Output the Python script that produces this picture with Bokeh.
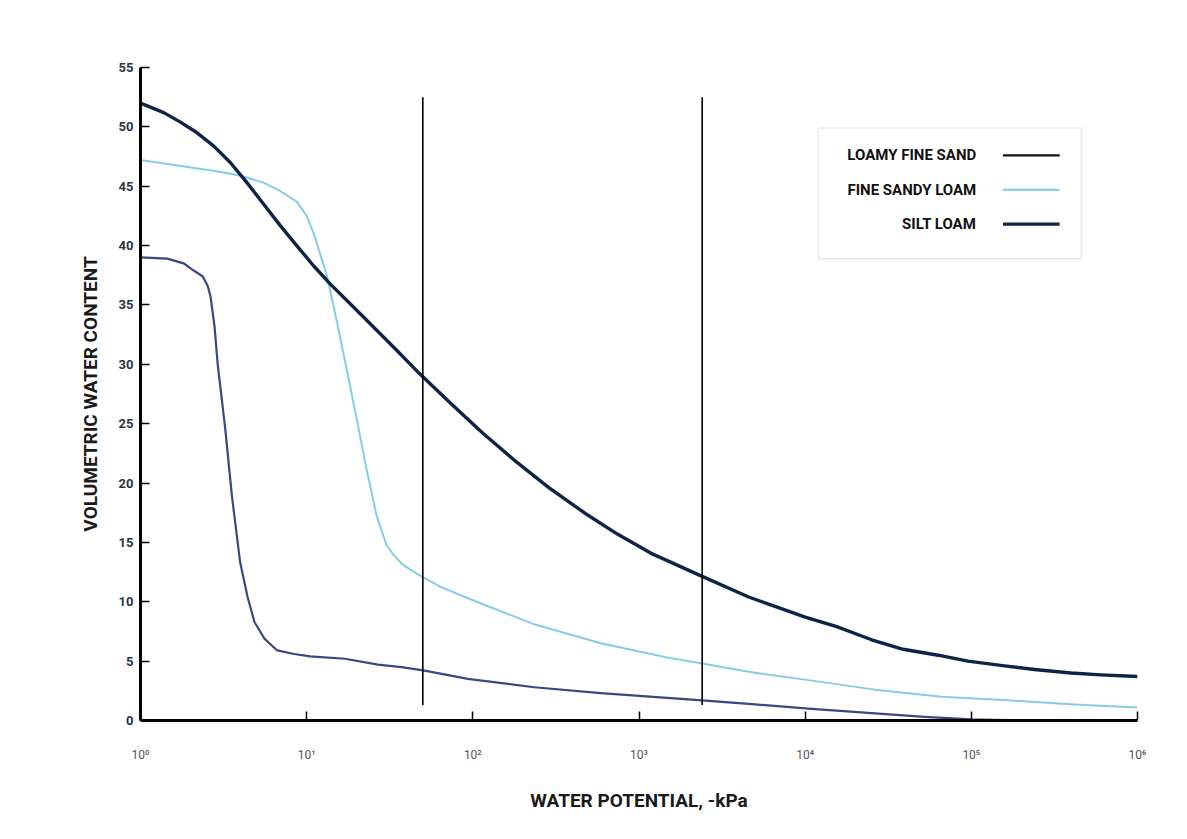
from bokeh.plotting import figure
from bokeh.models import Range1d, FixedTicker, BoxAnnotation
from bokeh.embed import file_html
from bokeh.resources import INLINE
from bokeh.core.properties import value

# ---- data (water potential in -kPa, volumetric water content in %) ----
silt_kpa = [1, 1.38, 1.74, 2.19, 2.75, 3.47, 4.37, 5.50, 6.92, 8.71, 11.0, 13.8, 21.9,
            34.7, 47.9, 72.4, 115, 182, 288, 468, 741, 1175, 2344, 4571, 6026, 10000,
            15488, 25119, 38905, 63096, 95499, 158489, 239883, 398107, 602560, 1000000]
silt_theta = [52.0, 51.2, 50.4, 49.5, 48.4, 47.0, 45.3, 43.5, 41.7, 40.0, 38.3, 36.8, 34.0,
              31.2, 29.2, 26.8, 24.2, 21.8, 19.6, 17.5, 15.7, 14.1, 12.2, 10.4, 9.8, 8.7,
              7.9, 6.8, 6.0, 5.5, 5.0, 4.6, 4.3, 4.0, 3.84, 3.7]

fsl_kpa = [1, 1.74, 2.75, 3.98, 5.50, 6.92, 8.71, 10.0, 11.1, 12.0, 13.2, 15.1, 17.4,
           20.0, 22.9, 26.3, 30.2, 33.1, 38.0, 45.7, 63.1, 93.3, 234, 589, 1479, 2399,
           4571, 10471, 26303, 66069, 165959, 416869, 1000000]
fsl_theta = [47.2, 46.7, 46.3, 45.9, 45.3, 44.6, 43.7, 42.5, 40.9, 39.4, 37.5, 33.8, 29.6,
             25.4, 21.2, 17.3, 14.8, 14.0, 13.1, 12.4, 11.3, 10.3, 8.1, 6.5, 5.3, 4.8,
             4.1, 3.4, 2.6, 2.0, 1.7, 1.35, 1.1]

lfs_kpa = [1, 1.45, 1.82, 2.09, 2.37, 2.54, 2.64, 2.79, 2.91, 3.24, 3.55, 3.98, 4.41,
           4.85, 5.57, 6.65, 8.41, 10.5, 17.0, 26.9, 37.2, 51.3, 93.3, 234, 589, 1479,
           2399, 4571, 10471, 26303, 52481, 100000, 199526]
lfs_theta = [39.0, 38.9, 38.5, 37.9, 37.4, 36.6, 35.7, 33.2, 30.1, 24.5, 18.9, 13.3, 10.4,
             8.3, 6.9, 5.9, 5.6, 5.4, 5.2, 4.7, 4.5, 4.2, 3.5, 2.8, 2.3, 1.9,
             1.7, 1.4, 1.0, 0.6, 0.3, 0.1, 0.0]

marker_kpa = [50, 2400]
marker_bottom = [1.3, 1.3]
marker_top = [52.5, 52.5]

x_ticks = [1, 10, 100, 1000, 10000, 100000, 1000000]
x_tick_labels = ["10⁰", "10¹", "10²", "10³", "10⁴", "10⁵", "10⁶"]
y_ticks = [0, 5, 10, 15, 20, 25, 30, 35, 40, 45, 50, 55]

legend_labels = ["LOAMY FINE SAND", "FINE SANDY LOAM", "SILT LOAM"]
legend_colors = ["#111111", "#7fc6e2", "#0c2447"]
legend_widths = [2.2, 2.0, 3.2]

FONT = "Roboto"

p = figure(width=1179, height=831, x_axis_type="log",
           x_range=Range1d(1, 1e6), y_range=Range1d(0, 55),
           output_backend="svg", toolbar_location=None,
           min_border_left=140, min_border_right=42,
           min_border_top=67, min_border_bottom=111)
p.outline_line_color = None
p.grid.visible = False
p.background_fill_color = "white"

# curves
p.line(lfs_kpa, lfs_theta, line_color="#3b4684", line_width=2.2, line_join="round")
p.line(fsl_kpa, fsl_theta, line_color="#86cce6", line_width=2.0, line_join="round")
p.line(silt_kpa, silt_theta, line_color="#0c2447", line_width=3.4, line_join="round")

# vertical reference lines
p.segment(x0=marker_kpa, y0=marker_bottom, x1=marker_kpa, y1=marker_top,
          line_color="black", line_width=1.6)

# axes
p.xaxis.ticker = FixedTicker(ticks=x_ticks)
p.xaxis.major_label_overrides = {t: l for t, l in zip(x_ticks, x_tick_labels)}
p.yaxis.ticker = FixedTicker(ticks=y_ticks)
for ax in (p.xaxis, p.yaxis):
    ax.axis_line_color = "black"
    ax.axis_line_width = 3
    ax.major_tick_line_color = "black"
    ax.major_tick_line_width = 1.5
    ax.major_tick_in = 9
    ax.major_tick_out = 0
    ax.minor_tick_line_color = None
    ax.axis_label_text_font = FONT
    ax.axis_label_text_font_style = "bold"
    ax.axis_label_text_font_size = "19px"
    ax.axis_label_text_color = "#1a1a1a"
    ax.major_label_text_font = FONT

p.xaxis.axis_label = "WATER POTENTIAL, -kPa"
p.xaxis.major_label_text_font_size = "12px"
p.xaxis.major_label_text_color = "#555555"
p.xaxis.major_label_standoff = 27
p.xaxis.axis_label_standoff = 24

p.yaxis.axis_label = "VOLUMETRIC WATER CONTENT"
p.yaxis.major_label_text_font_size = "13px"
p.yaxis.major_label_text_font_style = "bold"
p.yaxis.major_label_text_color = "#2c3346"
p.yaxis.major_label_standoff = 7
p.yaxis.axis_label_standoff = 14

# manual legend (label then line sample, inside a light box)
p.add_layout(BoxAnnotation(left=12000, right=460000, top=49.9, bottom=38.9,
                           fill_color=None, fill_alpha=0.0, level="underlay",
                           line_color="#a9bfcc", line_width=1.5))
legend_y = [47.6, 44.7, 41.8]
p.text(x=[107000] * 3, y=legend_y, text=legend_labels,
       text_align="right", text_baseline="middle",
       text_font=value(FONT), text_font_style="bold",
       text_font_size="15px", text_color="#111111")
for yy, c, w in zip(legend_y, legend_colors, legend_widths):
    p.segment(x0=[155000], y0=[yy], x1=[340000], y1=[yy], line_color=c, line_width=w)

open("out.html", "w").write(file_html(p, INLINE))
